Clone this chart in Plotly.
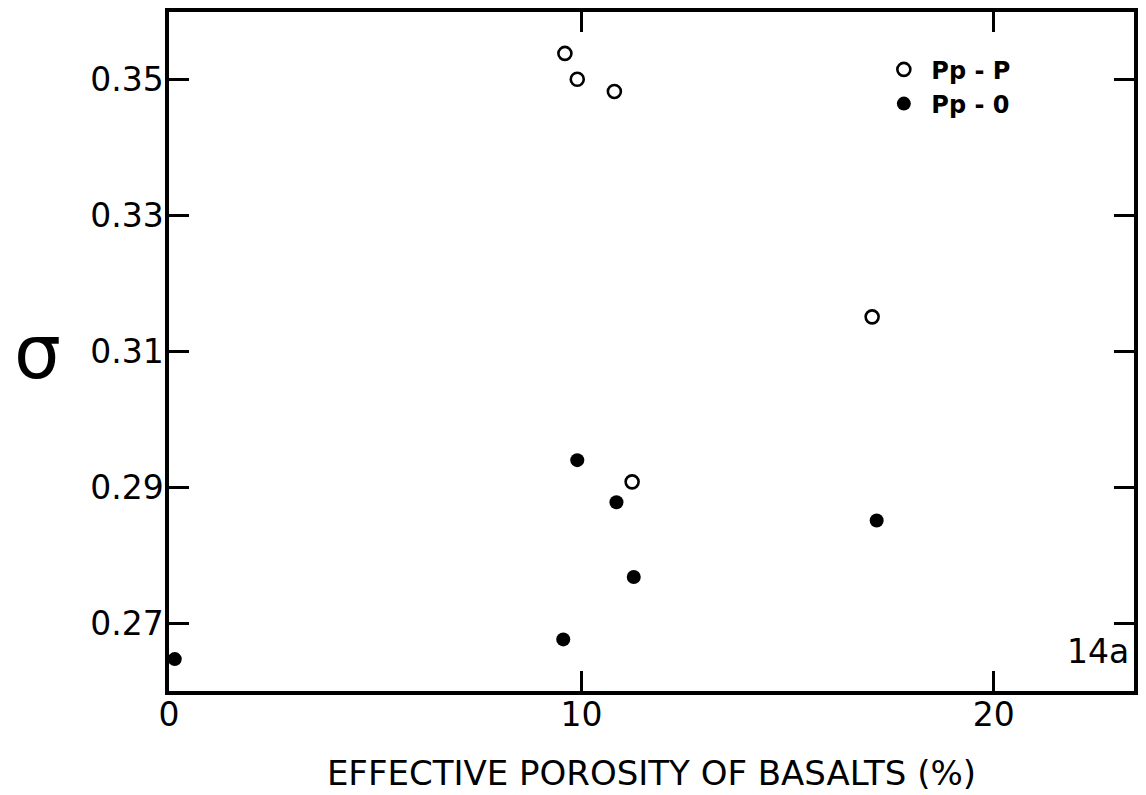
import plotly.graph_objects as go

# Data
pp_p_x = [9.6, 9.9, 10.8, 17.05, 11.23]
pp_p_y = [0.3539, 0.3501, 0.3483, 0.3151, 0.2908]
pp_0_x = [9.9, 10.85, 11.27, 9.56, 17.16, 0.14]
pp_0_y = [0.2940, 0.2878, 0.2768, 0.2676, 0.2851, 0.2647]

x_ticks = [0, 10, 20]
x_ticktext = ["0", "10", "20"]
y_ticks = [0.27, 0.29, 0.31, 0.33, 0.35]
y_ticktext = ["0.27", "0.29", "0.31", "0.33", "0.35"]

FONT = "DejaVu Sans, Liberation Sans, Arial, sans-serif"

fig = go.Figure()
fig.add_trace(go.Scatter(
    x=pp_p_x, y=pp_p_y, mode="markers", name="Pp - P",
    marker=dict(symbol="circle-open", size=13, color="black",
                line=dict(width=2.6, color="black")),
))
fig.add_trace(go.Scatter(
    x=pp_0_x, y=pp_0_y, mode="markers", name="Pp - 0",
    marker=dict(symbol="circle", size=14, color="black"),
))

axis_common = dict(
    showline=True, linecolor="black", linewidth=3.5, mirror="ticks",
    ticks="inside", ticklen=20, tickwidth=3, tickcolor="black",
    showgrid=False, zeroline=False,
    tickfont=dict(family=FONT, size=33, color="black"),
)

fig.update_layout(
    width=1146, height=795,
    margin=dict(l=169, r=8, t=9, b=102),
    paper_bgcolor="white", plot_bgcolor="white",
    xaxis=dict(range=[0, 23.4], tickvals=x_ticks, ticktext=x_ticktext,
               ticklabelstandoff=-8,
               title=dict(text="EFFECTIVE POROSITY OF BASALTS (%)",
                          font=dict(family=FONT, size=34, color="black"),
                          standoff=29),
               **axis_common),
    yaxis=dict(range=[0.26, 0.36], tickvals=y_ticks, ticktext=y_ticktext,
               ticklabelstandoff=-5, **axis_common),
    showlegend=True,
    legend=dict(x=0.733, y=0.948, xanchor="left", yanchor="top",
                bgcolor="rgba(0,0,0,0)",
                font=dict(family=FONT, size=24, color="black", weight="bold"),
                itemsizing="trace", itemwidth=45, tracegroupgap=0),
    annotations=[
        dict(text="σ", x=37, y=352, xref="paper", yref="paper",
             xanchor="center", yanchor="middle",
             showarrow=False, font=dict(family=FONT, size=74, color="black")),
        dict(text="14a", x=1135, y=653, xref="paper", yref="paper",
             xanchor="right", yanchor="middle", showarrow=False,
             font=dict(family=FONT, size=33, color="black")),
    ],
)

# convert pixel-positioned annotations to paper coords
pl, pr, pt, pb = 169, 1138, 9, 693
anns = []
for a in fig.layout.annotations:
    a = a.to_plotly_json()
    a["x"] = (a["x"] - pl) / (pr - pl)
    a["y"] = (pb - a["y"]) / (pb - pt)
    anns.append(a)
fig.layout.annotations = anns

fig.write_html("out.html")
